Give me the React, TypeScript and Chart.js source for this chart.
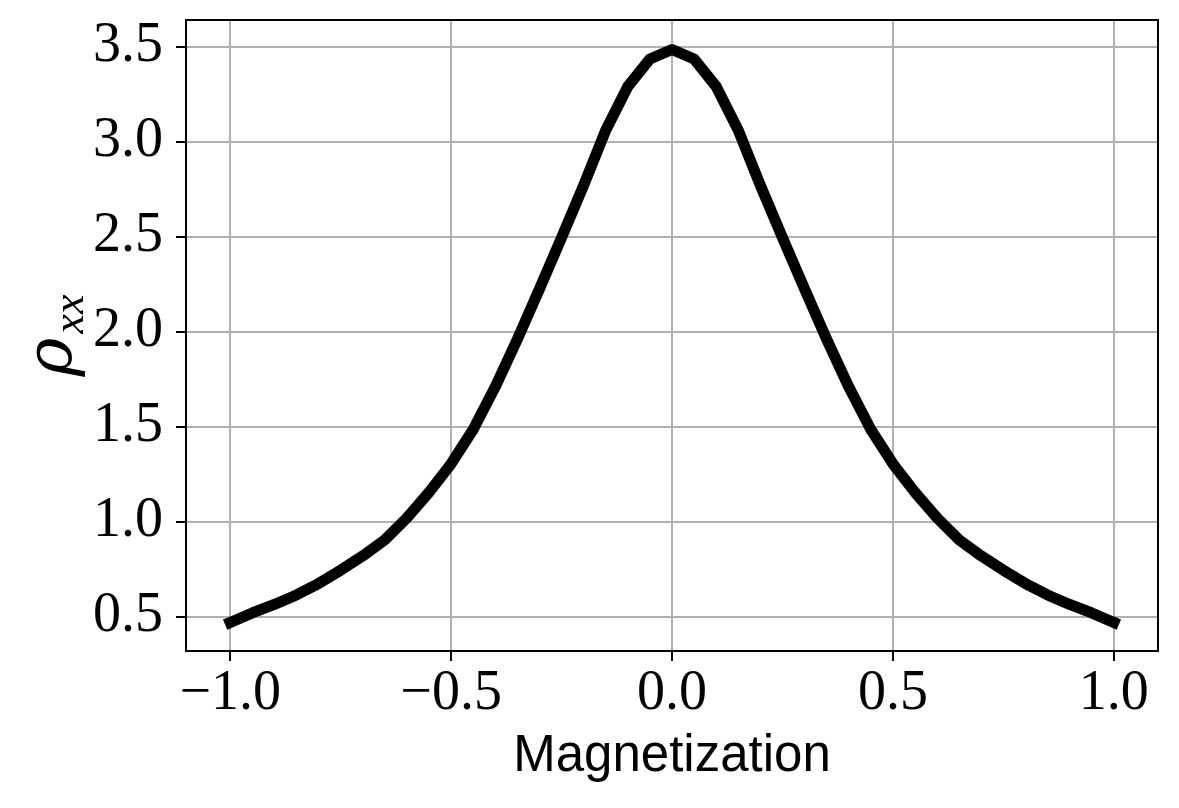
import React, { useEffect, useRef } from "react";
import { Chart, registerables } from "chart.js";

Chart.register(...registerables);

const magnetization = [
  -1.0, -0.95, -0.9, -0.85, -0.8, -0.75, -0.7, -0.65, -0.6, -0.55, -0.5,
  -0.45, -0.4, -0.35, -0.3, -0.25, -0.2, -0.15, -0.1, -0.05, 0.0,
  0.05, 0.1, 0.15, 0.2, 0.25, 0.3, 0.35, 0.4, 0.45, 0.5,
  0.55, 0.6, 0.65, 0.7, 0.75, 0.8, 0.85, 0.9, 0.95, 1.0,
];

const rhoXX = [
  0.47, 0.52, 0.565, 0.615, 0.675, 0.745, 0.82, 0.905, 1.02, 1.155, 1.305,
  1.485, 1.71, 1.96, 2.225, 2.495, 2.77, 3.06, 3.29, 3.435, 3.485,
  3.435, 3.29, 3.06, 2.77, 2.495, 2.225, 1.96, 1.71, 1.485, 1.305,
  1.155, 1.02, 0.905, 0.82, 0.745, 0.675, 0.615, 0.565, 0.52, 0.47,
];

const xTicks = [-1.0, -0.5, 0.0, 0.5, 1.0];
const yTicks = [0.5, 1.0, 1.5, 2.0, 2.5, 3.0, 3.5];

const xTitle = "Magnetization";
const yTitleMain = "ρ";
const yTitleSub = "xx";

const fmt = (v: number) => (v < 0 ? "\u2212" : "") + Math.abs(v).toFixed(1);

const framePlugin = {
  id: "frameAndYTitle",
  afterDraw(chart: any) {
    const { ctx, chartArea } = chart;
    ctx.save();
    ctx.strokeStyle = "#000";
    ctx.lineWidth = 2;
    ctx.strokeRect(
      chartArea.left,
      chartArea.top,
      chartArea.right - chartArea.left,
      chartArea.bottom - chartArea.top
    );
    ctx.restore();

    // y-axis title: rho with subscript xx, rotated
    const yc = (chartArea.top + chartArea.bottom) / 2;
    ctx.save();
    ctx.translate(71, yc);
    ctx.rotate(-Math.PI / 2);
    ctx.fillStyle = "#000";
    ctx.textBaseline = "alphabetic";
    ctx.textAlign = "left";
    const mainFont = "italic 66px 'DejaVu Serif'";
    const subFont = "italic 44px 'Liberation Serif'";
    ctx.font = mainFont;
    const wMain = ctx.measureText(yTitleMain).width;
    ctx.font = subFont;
    const wSub = ctx.measureText(yTitleSub).width;
    const total = wMain + 4 + wSub;
    const x0 = -total / 2;
    ctx.font = mainFont;
    ctx.fillText(yTitleMain, x0, 0);
    ctx.font = subFont;
    ctx.fillText(yTitleSub, x0 + wMain + 4, 12);
    ctx.restore();
  },
};

export default function App() {
  const canvasRef = useRef<HTMLCanvasElement | null>(null);

  useEffect(() => {
    const canvas = canvasRef.current;
    if (!canvas) return;
    const points = magnetization.map((m, i) => ({ x: m, y: rhoXX[i] }));
    const chart = new Chart(canvas, {
      type: "line",
      data: {
        datasets: [
          {
            data: points,
            borderColor: "#000",
            backgroundColor: "#000",
            borderWidth: 11,
            pointRadius: 0,
            tension: 0,
            borderJoinStyle: "round",
            borderCapStyle: "square",
            fill: false,
          },
        ],
      },
      options: {
        animation: false,
        responsive: false,
        devicePixelRatio: 1,
        layout: { padding: { top: 20, right: 21, left: 0, bottom: 0 } },
        plugins: {
          legend: { display: false },
          tooltip: { enabled: false },
        },
        scales: {
          x: {
            type: "linear",
            min: -1.1,
            max: 1.1,
            afterFit(scale: any) {
              scale.height = 157;
              scale.paddingLeft = 0;
              scale.paddingRight = 0;
            },
            afterBuildTicks(scale: any) {
              scale.ticks = xTicks.map((v) => ({ value: v }));
            },
            ticks: {
              includeBounds: false,
              padding: 0,
              maxRotation: 0,
              autoSkip: false,
              color: "#000",
              font: { family: "'Liberation Serif'", size: 56 },
              callback: (v: any) => fmt(Number(v)),
            },
            grid: {
              color: "#b0b0b0",
              lineWidth: 2,
              tickColor: "#000",
              tickWidth: 2,
              tickLength: 10,
            },
            border: { display: false },
            title: {
              display: true,
              text: xTitle,
              color: "#000",
              font: { family: "'Liberation Sans'", size: 51 },
              padding: { top: 0, bottom: 20 },
            },
          },
          y: {
            type: "linear",
            min: 0.32,
            max: 3.64,
            afterFit(scale: any) {
              scale.width = 186;
              scale.paddingTop = 0;
              scale.paddingBottom = 0;
            },
            afterBuildTicks(scale: any) {
              scale.ticks = yTicks.map((v) => ({ value: v }));
            },
            ticks: {
              includeBounds: false,
              padding: 13,
              autoSkip: false,
              color: "#000",
              font: { family: "'Liberation Serif'", size: 56 },
              callback: (v: any) => fmt(Number(v)),
            },
            grid: {
              color: "#b0b0b0",
              lineWidth: 2,
              tickColor: "#000",
              tickWidth: 2,
              tickLength: 10,
            },
            border: { display: false },
            title: { display: false },
          },
        },
      },
      plugins: [framePlugin],
    });
    return () => chart.destroy();
  }, []);

  return (
    <div
      style={{
        position: "fixed",
        left: 0,
        top: 0,
        width: 1179,
        height: 808,
        background: "#fff",
      }}
    >
      <canvas ref={canvasRef} width={1179} height={808} />
    </div>
  );
}
